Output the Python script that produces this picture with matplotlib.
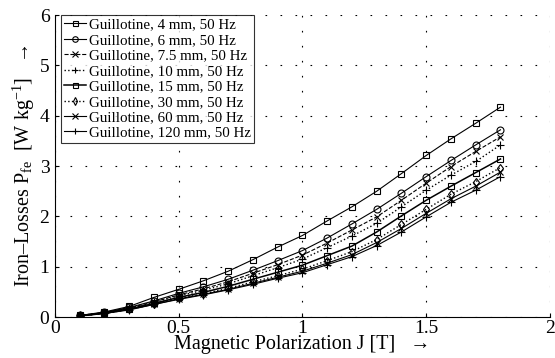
import numpy as np
import matplotlib
matplotlib.use('Agg')
import matplotlib.pyplot as plt

plt.rcParams['font.family'] = ['Liberation Serif', 'DejaVu Serif']
plt.rcParams['mathtext.fontset'] = 'custom'
plt.rcParams['mathtext.rm'] = 'Liberation Serif'
plt.rcParams['mathtext.it'] = 'Liberation Serif:italic'

# magnetic polarization J [T]
J = [0.1, 0.2, 0.3, 0.4, 0.5, 0.6, 0.7, 0.8, 0.9, 1.0, 1.1, 1.2, 1.3, 1.4, 1.5, 1.6, 1.7, 1.8]

# iron losses [W/kg]
p_4mm = [0.03, 0.10, 0.21, 0.39, 0.55, 0.72, 0.91, 1.14, 1.39, 1.62, 1.91, 2.19, 2.50, 2.85, 3.21, 3.54, 3.85, 4.17]
p_6mm = [0.03, 0.09, 0.19, 0.32, 0.47, 0.60, 0.75, 0.93, 1.12, 1.32, 1.57, 1.85, 2.14, 2.46, 2.79, 3.11, 3.42, 3.72]
p_7_5mm = [0.03, 0.09, 0.18, 0.30, 0.44, 0.56, 0.70, 0.87, 1.04, 1.23, 1.47, 1.73, 1.99, 2.32, 2.66, 2.99, 3.29, 3.58]
p_10mm = [0.03, 0.08, 0.17, 0.29, 0.42, 0.53, 0.66, 0.82, 0.98, 1.15, 1.38, 1.61, 1.86, 2.19, 2.52, 2.82, 3.09, 3.42]
p_15mm = [0.02, 0.08, 0.16, 0.27, 0.39, 0.49, 0.61, 0.75, 0.89, 1.03, 1.22, 1.41, 1.69, 2.01, 2.32, 2.60, 2.87, 3.14]
p_30mm = [0.02, 0.07, 0.15, 0.26, 0.37, 0.46, 0.57, 0.70, 0.82, 0.95, 1.12, 1.30, 1.54, 1.84, 2.14, 2.44, 2.69, 2.97]
p_60mm = [0.02, 0.07, 0.15, 0.25, 0.36, 0.45, 0.55, 0.67, 0.79, 0.91, 1.07, 1.24, 1.48, 1.76, 2.06, 2.35, 2.60, 2.88]
p_120mm = [0.02, 0.07, 0.14, 0.25, 0.35, 0.44, 0.54, 0.65, 0.77, 0.88, 1.04, 1.20, 1.42, 1.69, 1.99, 2.28, 2.52, 2.79]

labels = ['Guillotine, 4 mm, 50 Hz', 'Guillotine, 6 mm, 50 Hz', 'Guillotine, 7.5 mm, 50 Hz',
          'Guillotine, 10 mm, 50 Hz', 'Guillotine, 15 mm, 50 Hz', 'Guillotine, 30 mm, 50 Hz',
          'Guillotine, 60 mm, 50 Hz', 'Guillotine, 120 mm, 50 Hz']
series = [p_4mm, p_6mm, p_7_5mm, p_10mm, p_15mm, p_30mm, p_60mm, p_120mm]

styles = [
    dict(marker='s', ls='-', lw=0.8, ms=4.5),
    dict(marker='o', ls='-', lw=0.8, ms=5),
    dict(marker='x', ls='--', lw=0.8, ms=5),
    dict(marker='+', ls=':', lw=1.0, ms=6),
    dict(marker='s', ls='-', lw=1.1, ms=4.5),
    dict(marker='d', ls=':', lw=1.0, ms=4.5),
    dict(marker='x', ls='-', lw=0.8, ms=5),
    dict(marker='+', ls='-', lw=0.8, ms=6),
]

fig = plt.figure(figsize=(5.55, 3.58), dpi=100)
ax = fig.add_axes([0.099, 0.1145, 0.892, 0.8435])

for y, lab, st in zip(series, labels, styles):
    ax.plot(J, y, color='black', mfc='none', mec='black', mew=0.8, label=lab, **st)

ax.set_xlim(0, 2)
ax.set_ylim(0, 6)
ax.set_xticks([0, 0.5, 1, 1.5, 2])
ax.set_xticklabels(['0', '0.5', '1', '1.5', '2'])
ax.set_yticks(range(7))
ax.tick_params(direction='in', labelsize=14, length=3)
ax.tick_params(axis='x', pad=2)
ax.tick_params(axis='y', pad=4)
ax.grid(True, color='black', ls=(0, (1.5, 12)), lw=0.8)
ax.spines['top'].set_visible(False)
ax.spines['right'].set_visible(False)

ax.set_xlabel('Magnetic Polarization J [T]   \u2192', fontsize=14.5, labelpad=-1)
ax.set_ylabel('Iron\u2013Losses P$_{\\mathrm{fe}}$  [W kg$^{-1}$]   \u2192', fontsize=14.5, labelpad=2)

leg = ax.legend(loc='upper left', bbox_to_anchor=(0.012, 1.0), fontsize=10.8, frameon=True,
                fancybox=False, edgecolor='black', handlelength=1.5, handletextpad=0.2,
                labelspacing=0.13, borderpad=0.2, borderaxespad=0.0, markerscale=0.8)
leg.get_frame().set_linewidth(0.8)

fig.savefig('out.png', dpi=100)
